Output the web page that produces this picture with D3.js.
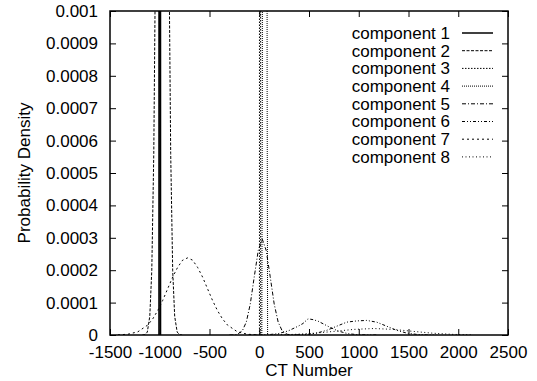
<!DOCTYPE html>
<html>
<head>
<meta charset="utf-8">
<script src="https://cdn.jsdelivr.net/npm/d3@7"></script>
<style>
  body { margin: 0; background: #fff; }
  svg text { font-family: "Liberation Sans", Arial, sans-serif; font-size: 17px; fill: #000; }
</style>
</head>
<body>
<svg id="chart" width="537" height="381"></svg>
<script>
// values: [CT number, density]
const xTicks = [-1500, -1000, -500, 0, 500, 1000, 1500, 2000, 2500];
const yTicks = [0, 0.0001, 0.0002, 0.0003, 0.0004, 0.0005, 0.0006, 0.0007, 0.0008, 0.0009, 0.001];
const labels = ['component 1', 'component 2', 'component 3', 'component 4',
                'component 5', 'component 6', 'component 7', 'component 8'];
const dashes = [null, '3,1.5', '1.5,1.5', '1,1', '4,2,1,2', '3,2,1,2,1,2', '2,3', '1,2.5'];

const comp1 = [[-1008, 0], [-1000, 0.02], [-992, 0]];
const comp2 = [[-1175, 0], [-1150, 0.000001], [-1125, 0.000009], [-1100, 0.000058], [-1080, 0.0002],
               [-1060, 0.00056], [-1040, 0.00127], [-1020, 0.0023], [-1000, 0.0034], [-975, 0.004],
               [-950, 0.0034], [-930, 0.0023], [-910, 0.00127], [-890, 0.00056], [-870, 0.0002],
               [-850, 0.000058], [-825, 0.000009], [-800, 0.000001], [-775, 0]];
const comp3 = [[2, 0], [8, 0.03], [14, 0]];
const comp4 = [[26, 0], [31, 0.0008], [55, 0.05], [79, 0.0008], [84, 0]];
const comp5 = [[-300, 0], [-250, 0.0000003], [-220, 0.0000022], [-170, 0.000013], [-130, 0.00004],
               [-90, 0.000096], [-50, 0.00018], [-10, 0.000261], [30, 0.000296], [70, 0.000261],
               [110, 0.00018], [150, 0.000096], [190, 0.00004], [230, 0.000013], [280, 0.0000022],
               [330, 0.0000003], [380, 0]];
const comp6 = [[-110, 0], [-10, 0.0000002], [90, 0.000001], [190, 0.0000042],
               [290, 0.0000125], [390, 0.000027], [440, 0.0000355], [490, 0.00005], [540, 0.0000475],
               [590, 0.0000429], [690, 0.000027], [790, 0.0000125], [890, 0.0000042], [990, 0.000001],
               [1090, 0.0000002], [1190, 0]];
const comp7 = [[-1420, 0.0000004], [-1320, 0.0000024], [-1220, 0.0000098], [-1120, 0.000031],
               [-1070, 0.00005], [-1020, 0.0000755], [-970, 0.000107], [-920, 0.000143],
               [-870, 0.000179], [-820, 0.000209], [-770, 0.000231], [-720, 0.000238],
               [-670, 0.000231], [-620, 0.000209], [-570, 0.000179], [-520, 0.000143],
               [-470, 0.000107], [-420, 0.0000755], [-370, 0.00005], [-320, 0.000031],
               [-220, 0.0000098], [-120, 0.0000024], [-20, 0.0000004]];
const comp8 = [[380, 0.0000005], [480, 0.000002], [580, 0.0000061], [680, 0.0000146], [780, 0.0000273],
               [880, 0.0000397], [980, 0.0000435], [1080, 0.000045], [1180, 0.0000397],
               [1280, 0.0000273], [1380, 0.0000146], [1480, 0.0000061], [1580, 0.000002],
               [1680, 0.0000005], [1780, 0]];
const comp8b = [[150, 0.0000005], [350, 0.0000019], [550, 0.0000054], [750, 0.0000111], [950, 0.0000173],
                [1150, 0.00002], [1350, 0.0000173], [1550, 0.0000111], [1750, 0.0000054],
                [1950, 0.0000019], [2150, 0.0000005]];

const curves = [
  { data: comp1, style: 0, width: 1.5 },
  { data: comp2, style: 1, width: 1 },
  { data: comp3, style: 2, width: 1 },
  { data: comp4, style: 3, width: 1 },
  { data: comp5, style: 4, width: 1 },
  { data: comp6, style: 5, width: 1 },
  { data: comp7, style: 6, width: 1 },
  { data: comp8, style: 5, width: 1 },
  { data: comp8b, style: 7, width: 1 }
];

const margin = { top: 11, right: 29, bottom: 46, left: 110 };
const svgW = 537, svgH = 381;
const width = svgW - margin.left - margin.right;
const height = svgH - margin.top - margin.bottom;

const svg = d3.select('#chart');
const g = svg.append('g').attr('transform', `translate(${margin.left},${margin.top})`);

const x = d3.scaleLinear().domain([-1500, 2500]).range([0, width]);
const y = d3.scaleLinear().domain([0, 0.001]).range([height, 0]);

g.append('clipPath').attr('id', 'clip')
  .append('rect').attr('width', width).attr('height', height);

// ticks inward, mirrored like gnuplot
g.append('g').attr('transform', `translate(0,${height})`)
  .call(d3.axisBottom(x).tickValues(xTicks).tickSize(-6).tickPadding(11).tickFormat(d => String(d)))
  .call(a => a.select('.domain').remove());
g.append('g')
  .call(d3.axisTop(x).tickValues(xTicks).tickSize(-6).tickFormat(''))
  .call(a => a.select('.domain').remove());
g.append('g')
  .call(d3.axisLeft(y).tickValues(yTicks).tickSize(-6).tickPadding(12).tickFormat(d => d === 0 ? '0' : String(+d.toFixed(4))))
  .call(a => a.select('.domain').remove());
g.append('g').attr('transform', `translate(${width},0)`)
  .call(d3.axisRight(y).tickValues(yTicks).tickSize(-6).tickFormat(''))
  .call(a => a.select('.domain').remove());

g.selectAll('.tick line').attr('stroke', '#000').attr('stroke-width', 1);
g.selectAll('.tick text').attr('fill', '#000').style('font-size', '17px')
  .style('font-family', '"Liberation Sans", Arial, sans-serif');

const line = d3.line().x(d => x(d[0])).y(d => y(d[1]));

g.append('g').attr('clip-path', 'url(#clip)')
  .selectAll('path')
  .data(curves)
  .enter().append('path')
  .attr('fill', 'none')
  .attr('stroke', '#000')
  .attr('stroke-width', d => d.width)
  .attr('stroke-dasharray', d => dashes[d.style])
  .attr('d', d => line(d.data));

g.append('rect')
  .attr('width', width).attr('height', height)
  .attr('fill', 'none').attr('stroke', '#000').attr('stroke-width', 1.5);

// legend
const legend = g.selectAll('.legend')
  .data(labels)
  .enter().append('g')
  .attr('class', 'legend')
  .attr('transform', (d, i) => `translate(0, ${22 + i * 17.7})`);

legend.append('text')
  .attr('x', 340)
  .attr('dy', '0.35em')
  .attr('text-anchor', 'end')
  .text(d => d);

legend.append('line')
  .attr('x1', 352).attr('x2', 383)
  .attr('stroke', '#000')
  .attr('stroke-width', (d, i) => i === 0 ? 1.5 : 1)
  .attr('stroke-dasharray', (d, i) => dashes[i]);

svg.append('text')
  .attr('x', margin.left + width / 2)
  .attr('y', 376)
  .attr('text-anchor', 'middle')
  .text('CT Number');

svg.append('text')
  .attr('transform', `translate(30,${margin.top + height / 2}) rotate(-90)`)
  .attr('text-anchor', 'middle')
  .text('Probability Density');
</script>
</body>
</html>
